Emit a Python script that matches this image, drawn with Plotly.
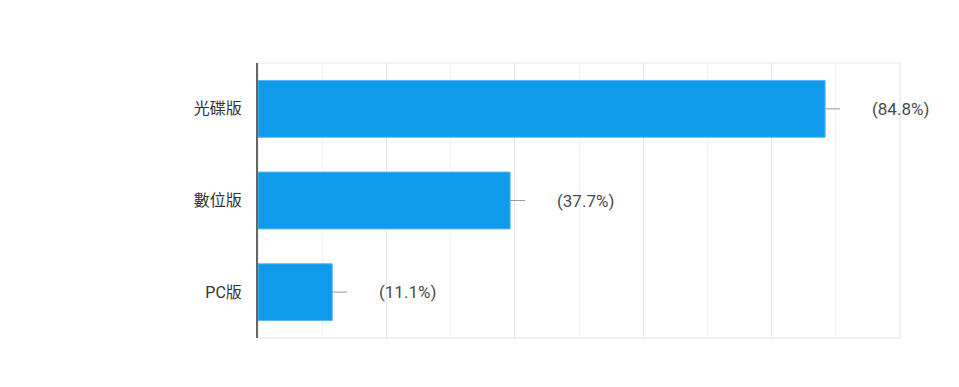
import plotly.graph_objects as go

categories = ["光碟版", "數位版", "PC版"]
percent_values = [84.8, 37.7, 11.1]
label_texts = ["(84.8%)", "(37.7%)", "(11.1%)"]
axis_max = 96.0

FONT = "Roboto, Noto Sans CJK TC"

fig = go.Figure()
fig.add_trace(go.Bar(
    y=categories, x=percent_values, orientation="h",
    marker=dict(color="#0f9aeb", line=dict(color="#5ab8f0", width=1)),
    width=0.62, hoverinfo="skip",
))

for cat, val, txt in zip(categories, percent_values, label_texts):
    fig.add_shape(type="line", xref="x", yref="y", xsizemode="pixel", xanchor=val,
                  x0=0, x1=15, y0=cat, y1=cat,
                  line=dict(color="#999999", width=1))
    fig.add_annotation(x=val, y=cat, xref="x", yref="y", text=txt, showarrow=False,
                       xanchor="left", xshift=45,
                       font=dict(size=17, color="#4a4a4a", family=FONT))

fig.add_shape(type="rect", xref="paper", yref="paper", x0=0, x1=1, y0=0, y1=1,
              line=dict(color="#e6e6e6", width=1), layer="below")

fig.update_layout(
    width=959, height=387,
    margin=dict(l=258, r=59, t=63, b=49),
    paper_bgcolor="white", plot_bgcolor="white",
    showlegend=False,
    font=dict(family=FONT, size=16, color="#333333"),
    xaxis=dict(range=[0, axis_max], showticklabels=False, ticks="",
               tick0=0, dtick=axis_max / 5, showgrid=True, gridcolor="#e6e6e6", gridwidth=1,
               minor=dict(dtick=axis_max / 10, showgrid=True, gridcolor="#f3f3f3"),
               zeroline=False, fixedrange=True),
    yaxis=dict(autorange="reversed", showline=True, linecolor="#666666", linewidth=2,
               ticks="", ticklabelstandoff=11, showgrid=False, zeroline=False,
               tickfont=dict(size=16, color="#333333", family=FONT)),
    bargap=0.38,
)

fig.write_html("out.html")
